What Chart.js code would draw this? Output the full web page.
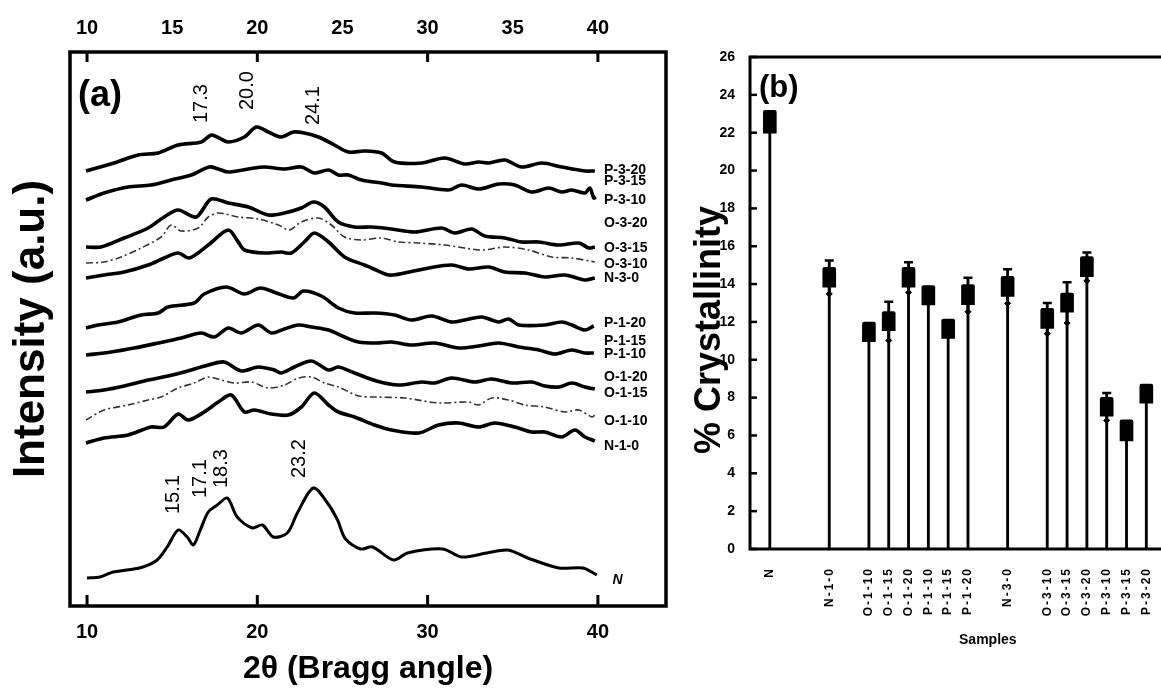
<!DOCTYPE html>
<html><head><meta charset="utf-8">
<script src="https://cdn.jsdelivr.net/npm/chart.js@4.4.1/dist/chart.umd.min.js"></script>
<style>
html,body{margin:0;padding:0;background:#fff;overflow:hidden;width:1161px;height:689px;}
#wrap{position:relative;width:1161px;height:689px;overflow:hidden;background:#fff;}
#ca{position:absolute;left:0;top:0;}
#cb{position:absolute;left:690px;top:0;}
</style></head><body>
<div id="wrap"><canvas id="ca" width="690" height="689"></canvas><canvas id="cb" width="560" height="689"></canvas></div>
<script>
// ---------- Panel (a): XRD patterns, [2theta, intensity offset a.u.] ----------
const xrd_P_3_20 = [[9.94,45.1],[11.59,45.9],[13.0,46.7],[14.18,46.9],[15.35,47.7],[16.71,48.0],[17.3,48.7],[17.76,48.4],[18.29,48.0],[19.24,48.5],[19.94,49.5],[20.65,49.0],[21.41,48.5],[22.12,49.0],[22.76,48.9],[23.59,48.5],[24.53,47.7],[25.35,47.0],[26.29,47.1],[27.29,46.9],[28.06,46.0],[29.65,45.9],[31.0,46.4],[32.18,45.8],[33.0,46.0],[33.59,45.9],[34.53,46.2],[35.53,45.5],[36.71,45.9],[37.88,45.5],[39.24,45.1],[39.82,45.1]];
const xrd_P_3_15 = [[9.94,42.2],[11.0,42.9],[12.41,43.5],[13.76,43.7],[14.94,44.2],[16.12,44.7],[17.18,45.5],[17.71,45.3],[18.29,45.0],[19.47,45.3],[20.41,45.5],[21.59,45.3],[22.59,45.5],[23.35,44.9],[24.18,45.2],[24.76,44.7],[25.35,44.7],[26.12,44.2],[27.29,43.9],[27.88,43.7],[29.65,43.5],[31.24,43.2],[32.0,43.7],[33.0,43.3],[34.18,43.8],[35.12,43.7],[36.12,43.0],[37.12,43.4],[37.88,43.0],[38.47,43.2],[39.24,42.9],[39.53,43.4],[39.76,42.4],[39.88,42.5]];
const xrd_O_3_15 = [[9.94,37.5],[10.82,37.5],[12.18,38.4],[13.59,39.4],[14.53,40.5],[15.35,41.2],[16.41,40.5],[17.29,42.3],[18.29,41.9],[19.47,41.5],[20.65,40.7],[21.59,40.9],[22.59,41.4],[23.29,42.0],[23.94,41.5],[24.76,40.0],[25.71,39.5],[26.71,39.5],[27.88,39.3],[29.24,39.0],[30.82,39.4],[31.59,38.9],[32.59,39.3],[33.35,38.6],[34.53,38.4],[35.53,38.0],[36.53,38.0],[37.71,37.7],[38.88,37.9],[39.47,37.4],[39.82,37.5]];
const xrd_O_3_10 = [[9.94,35.9],[11.0,36.0],[12.0,36.5],[13.18,37.4],[14.35,38.5],[14.94,39.7],[15.53,39.1],[16.53,39.4],[17.12,40.5],[17.71,40.9],[18.88,40.5],[20.06,40.3],[21.24,39.7],[21.88,39.2],[22.59,40.0],[23.59,40.4],[24.35,39.7],[25.12,38.5],[26.12,38.2],[27.29,38.4],[28.29,38.0],[29.47,37.9],[31.0,37.7],[33.18,37.2],[34.53,37.5],[35.94,37.2],[37.29,36.5],[38.47,36.4],[39.82,36.0]];
const xrd_N_3_0 = [[9.94,34.4],[11.0,34.7],[12.18,35.0],[13.59,35.7],[14.53,36.4],[15.35,36.9],[16.0,36.4],[17.12,37.7],[18.29,39.2],[18.88,38.0],[19.24,37.2],[20.41,36.9],[21.41,37.0],[22.0,36.9],[22.76,38.0],[23.35,38.9],[24.18,38.0],[25.12,36.5],[26.29,35.7],[26.71,35.4],[27.71,34.7],[28.65,34.9],[30.06,35.4],[31.41,35.7],[32.41,35.3],[33.59,35.5],[34.53,35.0],[35.71,34.9],[36.88,34.5],[38.06,34.7],[39.24,34.2],[39.82,34.4]];
const xrd_P_1_20 = [[9.94,29.4],[10.65,29.7],[11.82,30.0],[13.18,30.7],[14.18,30.9],[14.76,31.5],[16.29,31.9],[16.88,32.8],[18.18,33.5],[19.24,32.8],[20.18,33.4],[21.12,32.9],[22.12,32.4],[22.71,33.1],[23.76,32.6],[24.76,31.4],[25.71,30.9],[26.88,30.9],[28.06,30.7],[29.06,30.2],[30.24,30.6],[31.41,30.0],[32.18,30.2],[33.18,30.5],[34.18,30.0],[34.76,30.3],[35.35,29.7],[36.88,29.7],[37.88,30.0],[38.47,29.7],[39.24,29.2],[39.76,29.6]];
const xrd_P_1_10 = [[9.94,26.7],[11.41,27.0],[12.76,27.4],[14.18,27.9],[15.53,28.4],[16.71,28.9],[17.47,28.5],[18.29,29.4],[19.06,28.9],[20.06,29.7],[20.82,28.9],[21.59,29.3],[22.41,29.7],[23.18,29.5],[24.18,29.2],[25.12,28.5],[25.94,28.0],[27.0,27.9],[27.88,28.0],[29.06,27.7],[30.41,27.9],[31.82,27.4],[33.0,27.6],[34.18,27.9],[35.35,27.5],[36.53,27.2],[37.47,26.8],[38.47,27.2],[39.24,26.9],[39.76,26.9]];
const xrd_O_1_15 = [[9.94,23.0],[11.0,23.2],[12.18,23.6],[13.59,24.2],[14.76,24.6],[15.71,25.0],[17.12,25.7],[18.06,26.0],[19.06,25.1],[20.06,25.5],[21.0,25.2],[21.41,24.9],[22.18,25.5],[23.18,26.1],[24.18,25.2],[24.76,25.5],[25.71,24.9],[27.0,24.1],[28.29,23.7],[29.65,24.0],[30.41,23.9],[31.41,24.4],[32.76,24.0],[33.76,24.3],[34.94,23.9],[36.12,24.0],[36.88,23.6],[37.71,23.5],[38.47,23.9],[39.24,23.5],[39.82,23.3]];
const xrd_O_1_10 = [[9.94,20.2],[11.0,21.2],[12.41,21.7],[13.59,22.2],[14.35,22.5],[15.35,23.4],[16.29,23.9],[17.12,24.5],[17.88,24.2],[18.65,23.9],[19.65,24.0],[20.65,23.4],[21.59,23.7],[22.41,24.4],[23.18,24.5],[23.94,23.9],[24.76,23.5],[25.94,22.6],[27.0,22.5],[28.65,22.4],[30.65,21.9],[32.41,22.0],[33.0,21.7],[33.76,22.4],[34.76,22.2],[35.71,21.7],[36.88,21.5],[38.06,21.0],[38.88,21.2],[39.65,20.5],[39.82,20.7]];
const xrd_N_1_0 = [[9.94,17.9],[11.0,18.4],[12.41,18.7],[13.76,19.5],[14.53,19.5],[15.35,20.8],[15.94,20.2],[16.88,21.0],[17.71,22.0],[18.47,22.7],[19.24,21.0],[19.82,21.2],[20.82,20.8],[21.82,20.7],[22.59,21.5],[23.35,22.9],[24.18,21.7],[24.76,21.0],[25.71,20.5],[26.88,19.7],[27.88,19.2],[29.47,18.9],[30.65,19.7],[31.82,19.9],[33.0,19.5],[33.94,19.9],[35.12,19.5],[36.12,19.0],[36.88,19.0],[37.88,18.5],[38.65,19.2],[39.24,18.5],[39.82,18.1]];
const xrd_N = [[10.0,4.4],[10.76,4.5],[11.53,5.0],[12.35,5.2],[13.29,5.5],[14.12,6.2],[14.71,7.5],[15.35,9.2],[15.88,8.5],[16.24,7.7],[16.65,9.2],[17.12,11.0],[17.65,11.7],[18.24,12.4],[18.82,10.5],[19.71,9.4],[20.3,9.7],[20.94,8.5],[21.76,8.9],[22.35,10.9],[23.29,13.4],[24.12,11.9],[24.71,10.2],[25.18,8.3],[26.06,7.3],[26.76,7.5],[28.0,6.2],[28.82,6.9],[30.88,7.3],[32.0,6.5],[33.47,6.9],[34.71,7.2],[35.88,6.4],[37.71,5.4],[39.12,5.4],[39.94,4.7]];

const curveLabels = ['P-3-20','P-3-15','P-3-10','O-3-20','O-3-15','O-3-10','N-3-0','P-1-20','P-1-15','P-1-10','O-1-20','O-1-15','O-1-10','N-1-0','N'];
const curveLabelLevels = [45.2,44.1,42.2,39.9,37.4,35.8,34.4,29.9,28.1,26.8,24.5,22.9,20.1,17.6,4.2];
const curveLabelX = 40.36;
const peakTexts = ['17.3','20.0','24.1','15.1','17.1','18.3','23.2'];
const peakTextX = [16.75,19.45,23.27,15.05,16.64,17.88,22.5];
const peakTextBase = [49.9,51.2,49.7,10.8,12.4,13.4,14.4];
const bottomTicks2Theta = [10,20,30,40];
const topTicks2Theta = [10,15,20,25,30,35,40];

// ---------- Panel (b): crystallinity ----------
const samples = ['N','N-1-0','O-1-10','O-1-15','O-1-20','P-1-10','P-1-15','P-1-20','N-3-0','O-3-10','O-3-15','O-3-20','P-3-10','P-3-15','P-3-20'];
const crystallinity = [22.58,14.36,11.47,12.04,14.36,13.41,11.64,13.44,13.88,12.19,13.02,14.92,7.52,6.27,8.21];
const boxHalf = [0.60,0.53,0.52,0.50,0.53,0.51,0.51,0.53,0.53,0.53,0.51,0.53,0.50,0.56,0.50];
const errHalf = [null,0.88,null,1.02,0.80,null,null,0.90,0.90,0.81,1.08,0.75,0.73,null,null];
const axisSlots = ['','N','','','N-1-0','','O-1-10','O-1-15','O-1-20','P-1-10','P-1-15','P-1-20','','N-3-0','','O-3-10','O-3-15','O-3-20','P-3-10','P-3-15','P-3-20','','','',''];
const crystTicks = [0,26,2];

const FAM = "'Liberation Sans', Arial, sans-serif";
Chart.defaults.font.family = FAM;
Chart.defaults.color = '#000';

const toXY = arr => arr.map(p => ({x: p[0], y: p[1]}));
const solid = (label, arr, w) => ({label, data: toXY(arr), borderColor: '#000', borderWidth: w || 3.6, pointRadius: 0, tension: 0.3, fill: false});
const dashed = (label, arr) => ({label, data: toXY(arr), borderColor: '#333', borderWidth: 1.6, borderDash: [7, 3, 2, 3], pointRadius: 0, tension: 0.3, fill: false});
const fixedTicks = vals => function (s) { s.ticks = vals.map(v => ({value: v})); };

const frameA = {
  id: 'frameA',
  afterDraw(chart) {
    const {ctx, chartArea: a, scales} = chart;
    ctx.save();
    ctx.strokeStyle = '#000';
    ctx.lineWidth = 3.5;
    ctx.strokeRect(a.left, a.top, a.right - a.left, a.bottom - a.top);
    ctx.lineWidth = 3;
    bottomTicks2Theta.forEach(v => {
      const x = scales.x.getPixelForValue(v);
      ctx.beginPath(); ctx.moveTo(x, a.bottom); ctx.lineTo(x, a.bottom - 11); ctx.stroke();
      ctx.beginPath(); ctx.moveTo(x, a.top); ctx.lineTo(x, a.top + 10); ctx.stroke();
    });
    ctx.fillStyle = '#000';
    ctx.textBaseline = 'middle';
    ctx.textAlign = 'left';
    curveLabels.forEach((t, i) => {
      const isN = t === 'N';
      ctx.font = (isN ? 'italic ' : '') + 'bold 14px ' + FAM;
      const x = scales.x.getPixelForValue(curveLabelX + (isN ? 0.5 : 0));
      const y = scales.y.getPixelForValue(curveLabelLevels[i]);
      ctx.fillText(t, x, y);
    });
    ctx.font = '20px ' + FAM;
    peakTexts.forEach((t, i) => {
      const x = scales.x.getPixelForValue(peakTextX[i]);
      const y = scales.y.getPixelForValue(peakTextBase[i]);
      ctx.save(); ctx.translate(x, y); ctx.rotate(-Math.PI / 2);
      ctx.textAlign = 'left'; ctx.textBaseline = 'middle';
      ctx.fillText(t, 0, 0); ctx.restore();
    });
    ctx.font = 'bold 36px ' + FAM;
    ctx.textAlign = 'left'; ctx.textBaseline = 'middle';
    ctx.fillText('(a)', a.left + 8, a.top + 44);
    ctx.restore();
  }
};

new Chart(document.getElementById('ca'), {
  type: 'line',
  data: {datasets: [
    solid('P-3-20', xrd_P_3_20), solid('P-3-15', xrd_P_3_15), solid('O-3-15', xrd_O_3_15), dashed('O-3-10', xrd_O_3_10), solid('N-3-0', xrd_N_3_0),
    solid('P-1-20', xrd_P_1_20), solid('P-1-10', xrd_P_1_10), solid('O-1-15', xrd_O_1_15), dashed('O-1-10', xrd_O_1_10), solid('N-1-0', xrd_N_1_0),
    solid('N', xrd_N, 3)
  ]},
  options: {
    responsive: false, animation: false, devicePixelRatio: 1,
    layout: {padding: {top: 0, right: 24, bottom: 0, left: 0}},
    plugins: {legend: {display: false}, tooltip: {enabled: false}},
    scales: {
      x: {type: 'linear', position: 'bottom', min: 9, max: 44,
        grid: {display: false}, border: {display: false},
        afterBuildTicks: fixedTicks(bottomTicks2Theta),
        ticks: {padding: 6, font: {size: 20, weight: 'bold'}},
        title: {display: true, text: '2θ (Bragg angle)', font: {size: 32, weight: 'bold'}, padding: {top: 0, bottom: 1}},
        afterFit(s) { s.height = 83; }},
      x2: {type: 'linear', position: 'top', min: 9, max: 44,
        grid: {display: false}, border: {display: false},
        afterBuildTicks: fixedTicks(topTicks2Theta),
        ticks: {padding: 4, font: {size: 20, weight: 'bold'}},
        afterFit(s) { s.height = 52; }},
      y: {type: 'linear', min: 1.6, max: 57,
        grid: {display: false}, border: {display: false},
        ticks: {display: false},
        title: {display: true, text: 'Intensity (a.u.)', font: {size: 44, weight: 'bold'}, padding: {top: 5, bottom: 0}},
        afterFit(s) { s.width = 70; }}
    }
  },
  plugins: [frameA]
});

// ---------- Panel (b) ----------
const col = f => axisSlots.map(s => { const i = samples.indexOf(s); return i < 0 ? null : f(i); });
const stemData = col(i => [0, crystallinity[i]]);
const boxData = col(i => [crystallinity[i] - boxHalf[i], crystallinity[i] + boxHalf[i]]);
const whiskerData = col(i => errHalf[i] == null ? null : [crystallinity[i] - errHalf[i], crystallinity[i] + errHalf[i]]);
const capTop = col(i => errHalf[i] == null ? null : crystallinity[i] + errHalf[i]);
const capBottom = col(i => errHalf[i] == null ? null : crystallinity[i] - errHalf[i]);

const frameB = {
  id: 'frameB',
  beforeDraw(chart) { chart.ctx.letterSpacing = '2px'; },
  beforeDatasetsDraw(chart) { chart.ctx.letterSpacing = '0px'; },
  afterDraw(chart) {
    const {ctx, chartArea: a, scales} = chart;
    ctx.save();
    ctx.letterSpacing = '0px';
    ctx.strokeStyle = '#000';
    ctx.lineWidth = 3;
    ctx.beginPath();
    ctx.moveTo(a.right + 5, a.top); ctx.lineTo(a.left, a.top); ctx.lineTo(a.left, a.bottom); ctx.lineTo(a.right + 5, a.bottom);
    ctx.stroke();
    ctx.lineWidth = 2.5;
    scales.y.ticks.forEach(t => {
      const y = scales.y.getPixelForValue(t.value);
      ctx.beginPath(); ctx.moveTo(a.left, y); ctx.lineTo(a.left + 7, y); ctx.stroke();
    });
    ctx.fillStyle = '#000';
    ctx.font = 'bold 31px ' + FAM;
    ctx.textAlign = 'left'; ctx.textBaseline = 'middle';
    ctx.fillText('(b)', a.left + 9, a.top + 31);
    ctx.save();
    ctx.translate(20, 330); ctx.rotate(-Math.PI / 2);
    ctx.font = 'bold 36px ' + FAM; ctx.textAlign = 'center'; ctx.textBaseline = 'middle';
    ctx.fillText('% Crystallinity', 0, 0);
    ctx.restore();
    ctx.restore();
  }
};

new Chart(document.getElementById('cb'), {
  type: 'bar',
  data: {
    labels: axisSlots,
    datasets: [
      {label: 'stem', data: stemData, backgroundColor: '#000', barThickness: 2.2, grouped: false, order: 3},
      {label: 'whisker', data: whiskerData, backgroundColor: '#000', barThickness: 2.2, grouped: false, order: 2},
      {label: 'box', data: boxData, backgroundColor: '#000', barThickness: 13, borderRadius: 2, grouped: false, order: 1},
      {type: 'line', label: 'cap+', data: capTop, showLine: false, pointStyle: 'line', pointRadius: 4.5, pointBorderWidth: 2.5, pointBorderColor: '#000', order: 0},
      {type: 'line', label: 'cap-', data: capBottom, showLine: false, pointStyle: 'rectRot', pointRadius: 3, pointBorderWidth: 1, pointBorderColor: '#000', pointBackgroundColor: '#000', order: 0}
    ]
  },
  options: {
    responsive: false, animation: false, devicePixelRatio: 1,
    layout: {padding: {top: 57, right: 20, bottom: 0, left: 0}},
    plugins: {legend: {display: false}, tooltip: {enabled: false}},
    scales: {
      x: {type: 'category', offset: false,
        grid: {display: false, z: 1}, border: {display: false},
        ticks: {autoSkip: false, minRotation: 90, maxRotation: 90, padding: 10, z: 0, font: {size: 12, weight: 'bold'}},
        title: {display: true, text: 'Samples', font: {size: 14, weight: 'bold'}, padding: {top: 0, bottom: 40}},
        afterFit(s) { s.height = 140; }},
      y: {min: crystTicks[0], max: crystTicks[1],
        grid: {display: false}, border: {display: false},
        ticks: {stepSize: crystTicks[2], padding: 7, z: 1, font: {size: 14, weight: 'bold'}},
        afterFit(s) { s.width = 60; }}
    }
  },
  plugins: [frameB]
});
</script></body></html>
